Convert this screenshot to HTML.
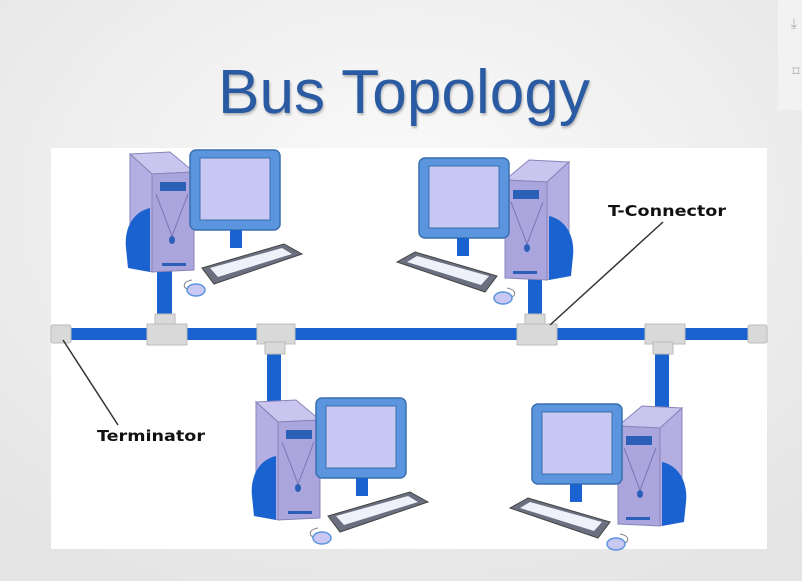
<!DOCTYPE html>
<html><head><meta charset="utf-8"><style>
html,body{margin:0;padding:0;width:802px;height:581px;overflow:hidden;background:#eeeeee;}
</style></head><body>
<svg width="802" height="581" viewBox="0 0 802 581" xmlns="http://www.w3.org/2000/svg">
<defs>
<radialGradient id="bg" cx="0.5" cy="0.35" r="0.75">
<stop offset="0" stop-color="#fbfbfb"/><stop offset="1" stop-color="#e4e4e4"/>
</radialGradient>
<g id="pc">
  <!-- tower -->
  <polygon points="8,4 48,2 72,22 30,24" fill="#c9c5ee" stroke="#8884b8" stroke-width="1"/>
  <polygon points="8,4 30,24 30,122 8,112" fill="#b4afe2" stroke="#8884b8" stroke-width="1"/>
  <polygon points="30,24 72,22 72,120 30,122" fill="#aaa5dc" stroke="#8884b8" stroke-width="1"/>
  <rect x="38" y="32" width="26" height="9" fill="#2b5fb8"/>
  <rect x="40" y="113" width="24" height="3" fill="#2b5fb8"/>
  <path d="M34,44 L50,86 L66,44" fill="none" stroke="#7a73b0" stroke-width="1"/>
  <ellipse cx="50" cy="90" rx="3" ry="4" fill="#2b5fb8"/>
  <path d="M28,58 C10,62 2,80 4,98 L6,118 L28,122 Z" fill="#1a62d0"/>
  <!-- monitor -->
  <rect x="68" y="0" width="90" height="80" rx="6" fill="#5b95de" stroke="#3a6fb0" stroke-width="1.5"/>
  <rect x="78" y="8" width="70" height="62" fill="#c9c8f5" stroke="#3a6fb0" stroke-width="1"/>
  <rect x="108" y="80" width="12" height="18" fill="#1a62d0"/>
  <!-- keyboard -->
  <polygon points="80,118 162,94 180,104 92,134" fill="#6a7080" stroke="#444" stroke-width="1"/>
  <polygon points="88,118 160,98 170,104 96,127" fill="#eef0fa"/>
  <!-- mouse -->
  <path d="M70,130 C60,132 60,138 68,140" fill="none" stroke="#888" stroke-width="1"/>
  <ellipse cx="74" cy="140" rx="9" ry="6" fill="#c9c8f5" stroke="#5b95de" stroke-width="1.5"/>
</g>
</defs>
<rect width="802" height="581" fill="url(#bg)"/>
<rect x="778" y="0" width="24" height="110" fill="#f2f2f2"/>
<text x="794" y="28" font-family="DejaVu Sans, sans-serif" font-size="14" fill="#aaa" text-anchor="middle">⤓</text>
<text x="796" y="76" font-family="DejaVu Sans, sans-serif" font-size="14" fill="#aaa" text-anchor="middle">⌑</text>
<text x="404" y="113" font-family="Liberation Sans, sans-serif" font-size="62" fill="#2a5aa2" text-anchor="middle" textLength="372" lengthAdjust="spacingAndGlyphs" style="filter:drop-shadow(1px 2px 1px rgba(0,0,0,0.25))">Bus Topology</text>
<rect x="51" y="148" width="716" height="401" fill="#ffffff"/>

<!-- drops -->
<rect x="157" y="265" width="15" height="65" fill="#1a62d0"/>
<rect x="528" y="272" width="14" height="58" fill="#1a62d0"/>
<rect x="267" y="338" width="14" height="65" fill="#1a62d0"/>
<rect x="655" y="338" width="14" height="70" fill="#1a62d0"/>
<!-- bus -->
<rect x="60" y="328" width="700" height="12" fill="#1a62d0"/>
<!-- terminators -->
<rect x="51" y="325" width="20" height="18" rx="2" fill="#d9d9d9" stroke="#bbb"/>
<rect x="748" y="325" width="19" height="18" rx="2" fill="#d9d9d9" stroke="#bbb"/>
<!-- T connectors -->
<g fill="#d9d9d9" stroke="#bbb">
<rect x="155" y="314" width="20" height="12"/><rect x="147" y="324" width="40" height="21"/>
<rect x="525" y="314" width="20" height="12"/><rect x="517" y="324" width="40" height="21"/>
<rect x="257" y="324" width="38" height="20"/><rect x="265" y="342" width="20" height="12"/>
<rect x="645" y="324" width="40" height="20"/><rect x="653" y="342" width="20" height="12"/>
</g>

<!-- computers -->
<use href="#pc" transform="translate(122,150)"/>
<use href="#pc" transform="translate(577,158) scale(-1,1)"/>
<use href="#pc" transform="translate(248,398)"/>
<use href="#pc" transform="translate(690,404) scale(-1,1)"/>

<!-- labels -->
<line x1="663" y1="222" x2="550" y2="325" stroke="#333" stroke-width="1.5"/>
<text x="608" y="216" font-family="DejaVu Sans, sans-serif" font-weight="bold" font-size="15" fill="#111" textLength="118" lengthAdjust="spacingAndGlyphs">T-Connector</text>
<line x1="63" y1="340" x2="118" y2="425" stroke="#333" stroke-width="1.5"/>
<text x="97" y="441" font-family="DejaVu Sans, sans-serif" font-weight="bold" font-size="15" fill="#111" textLength="108" lengthAdjust="spacingAndGlyphs">Terminator</text>
</svg>
</body></html>
